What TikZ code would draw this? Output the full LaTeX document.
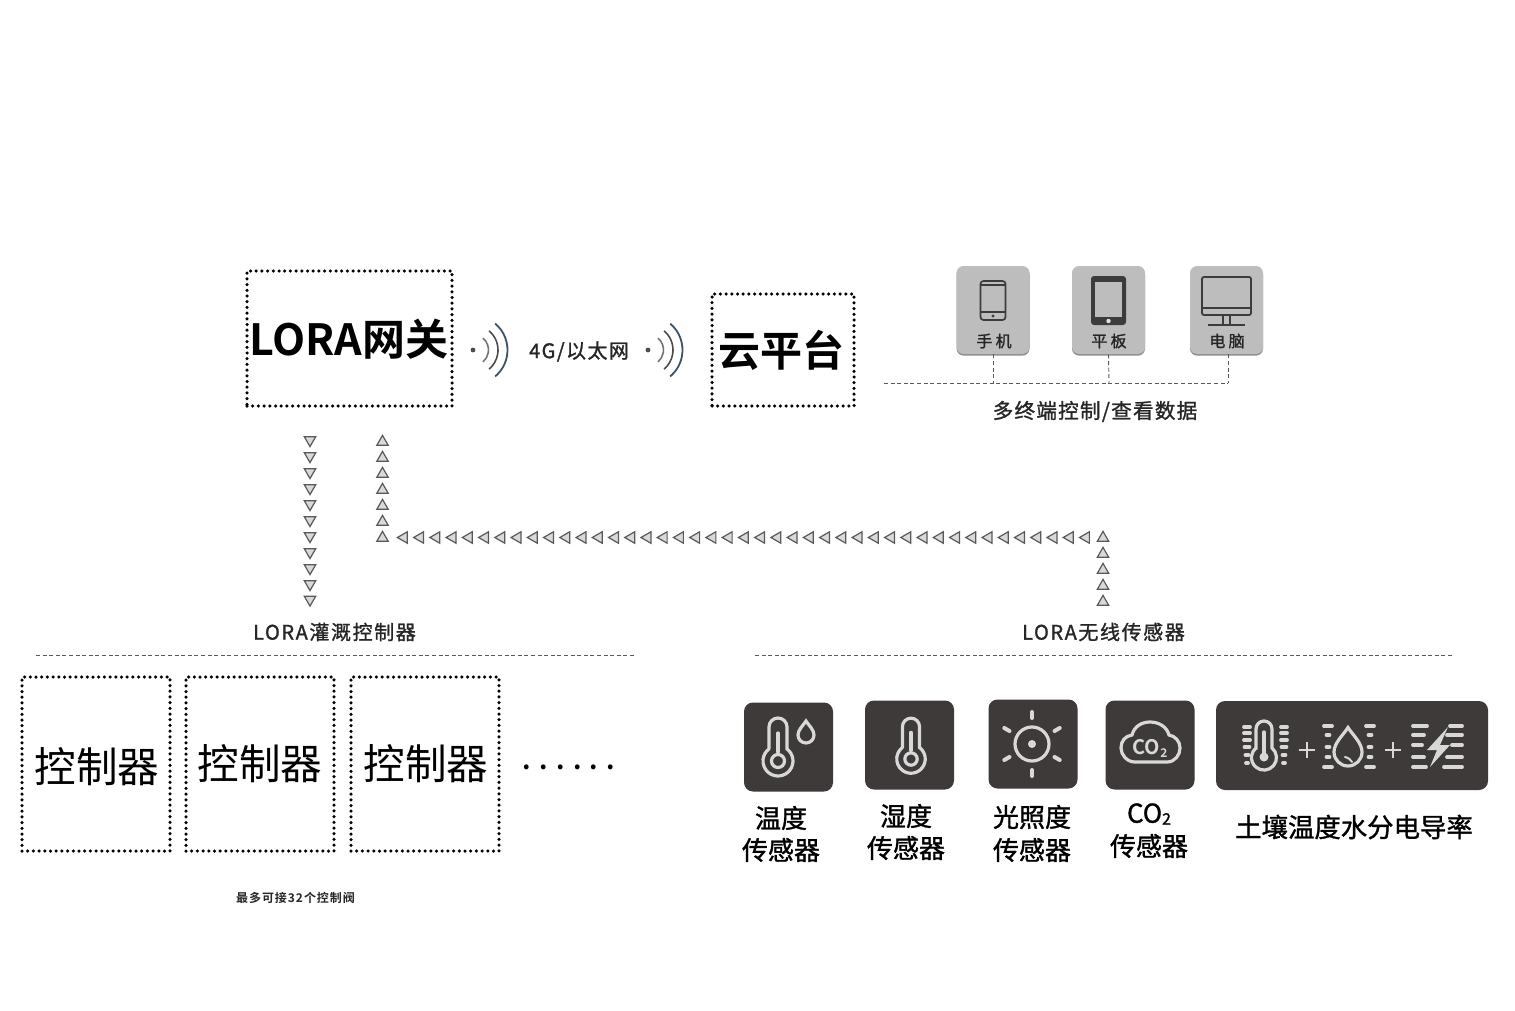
\documentclass[tikz,border=0pt]{standalone}
\usepackage{fontspec}
\setmainfont[BoldFont={Noto Sans CJK SC Bold}]{Noto Sans CJK SC}
\newfontfamily\medfont[FakeBold=1.3]{Noto Sans CJK SC}
\usetikzlibrary{%
  shapes.geometric,% triangles
  shadows,%
  positioning%
}
\definecolor{termgray}{HTML}{BDBDBD}
\definecolor{termline}{HTML}{3C3C3C}
\definecolor{icondark}{HTML}{3E3A39}
\definecolor{iconline}{HTML}{D8D8D8}
\definecolor{wavedark}{HTML}{3D5265}
\tikzset{
  dotbox/.style={draw=black,line width=1.75pt,line cap=round,dash pattern=on 0pt off 2.85pt,inner sep=0pt},
  termbox/.style={fill=termgray,rounded corners=3.5pt,minimum width=36.5pt,minimum height=44pt,inner sep=0pt,
    drop shadow={shadow xshift=0pt,shadow yshift=-0.8pt,fill=black!45,opacity=1}},
  sensorbox/.style={fill=icondark,rounded corners=4.5pt,minimum height=44.5pt,inner sep=0pt},
  bustext/.style={font=\medfont\fontsize{10}{12}\selectfont\addfontfeature{LetterSpace=8},text=black!85},
  senstext/.style={font=\medfont\fontsize{13}{15}\selectfont,text=black},
  termtext/.style={font=\medfont\fontsize{8}{9}\selectfont\addfontfeature{LetterSpace=20},text=black!85},
  tribase/.style={regular polygon,regular polygon sides=3,draw=black!65,fill=black!15,line width=0.6pt,minimum size=6.6pt,inner sep=0pt},
  tridown/.style={tribase,shape border rotate=180},
  triup/.style={tribase},
  trileft/.style={tribase,shape border rotate=90},
  dashline/.style={dashed,dash pattern=on 2pt off 1.3pt,draw=black!65,line width=0.45pt},
  iconstroke/.style={draw=iconline,line width=1.6pt,line cap=round},
  wavedot/.style={circle,fill=black!70,minimum size=2.4pt,inner sep=0pt},
  thermo/.pic={
    \draw[iconstroke] (-9,12) -- (-9,34) arc (180:0:9) -- (9,12) arc (53:-233:15);
    \draw[iconstroke] (0,0) circle (6.5);
    \draw[iconstroke] (0,9) -- (0,28);
  },
  droplet/.pic={
    \draw[iconstroke] (0,1.75) .. controls (0.35,1.2) and (1,0.65) .. (1,0) arc (0:-180:1) .. controls (-1,0.65) and (-0.35,1.2) .. (0,1.75) -- cycle;
  },
  waves/.pic={
    \draw[line width=0.8pt,draw=black!55] (50:15.5) arc (50:-50:15.5);
    \draw[line width=0.8pt,draw=black!70] (50:25) arc (50:-50:25);
    \draw[line width=0.9pt,draw=wavedark] (50:34.5) arc (50:-50:34.5);
  },
  plussign/.pic={
    \draw[draw=iconline,line width=0.9pt] (-8,0) -- (8,0) (0,-8) -- (0,8);
  },
}
\begin{document}
\begin{tikzpicture}[x=0.5pt,y=0.5pt]
\useasboundingbox (0,0) rectangle (1515,-1011);

% gateway and cloud
\node (gwbox) [dotbox,minimum width=102.5pt,minimum height=67.5pt] at (349.5,-338.5) {};
\node (gwtext) at (349,-339) {\bfseries\fontsize{21.5}{24}\selectfont LORA网关};
\node (cloudbox) [dotbox,minimum width=71pt,minimum height=56pt] at (783,-350) {};
\node (cloudtext) at (781,-350) {\bfseries\fontsize{21}{24}\selectfont 云平台};

% 4G link
\node (dotl) [wavedot] at (473,-350) {};
\pic at (473,-350) {waves};
\node (linktext) [font=\medfont\fontsize{10}{12}\selectfont\addfontfeature{LetterSpace=7},text=black!85] at (579,-351.5) {4G/以太网};
\node (dotr) [wavedot] at (648,-350) {};
\pic at (648,-350) {waves};

% terminals
\node (phone) [termbox] at (993,-310) {};
\node (tablet) [termbox] at (1108.5,-310) {};
\node (pc) [termbox] at (1226.5,-310) {};
\node (tphone) [termtext] at (994,-341) {手机};
\node (ttablet) [termtext] at (1109,-341) {平板};
\node (tpc) [termtext] at (1227,-341) {电脑};

\draw[termline,line width=0.85pt,rounded corners=1.5pt] (980.5,-281) rectangle (1005.5,-320);
\draw[termline,line width=0.6pt] (980.5,-285) -- (1005.5,-285) (980.5,-312) -- (1005.5,-312);
\fill[termline] (993,-316) circle (1.6);
\fill[termline,rounded corners=1.5pt] (1091,-276) rectangle (1126,-325);
\fill[termgray] (1095,-282) rectangle (1122,-317);
\fill[termgray!40] (1108.5,-321) circle (2.2);
\draw[termline,line width=0.9pt,rounded corners=1pt] (1202,-277) rectangle (1251,-315);
\draw[termline,line width=0.8pt] (1202,-308) -- (1251,-308);
\draw[termline,line width=0.7pt] (1223,-315) -- (1223,-325) (1230,-315) -- (1230,-325);
\draw[termline,line width=0.9pt] (1208,-325) -- (1245,-325);

% dashed bus under the terminals
\coordinate (busl) at (884,-383);
\coordinate (bus1) at (993,-383);
\coordinate (bus2) at (1109,-383);
\coordinate (bus3) at (1228,-383);
\draw[dashline] (busl) -- (bus3);
\draw[dashline] (phone.south) -- (bus1);
\draw[dashline] (tablet.south) -- (bus2);
\draw[dashline] (bus3 |- pc.south) -- (bus3);
\node (tbus) [font=\medfont\fontsize{10.3}{12}\selectfont\addfontfeature{LetterSpace=6},text=black!85] at (1095,-411.5) {多终端控制/查看数据};

% triangles
\foreach \i in {0,...,9} {
  \node (dn\i) [tridown] at (310,-440-16*\i) {};
}
\node (dn10) [tridown] at (310,-599.5) {};
\foreach \i in {0,...,6} {
  \node (up\i) [triup] at (382.5,-442-16*\i) {};
}
\foreach \i in {0,...,42} {
  \node (lf\i) [trileft] at (404+16.24*\i,-537.5) {};
}
\foreach \i in {0,...,4} {
  \node (rt\i) [triup] at (1103,-538-16*\i) {};
}

% bus labels and lines
\node (tctrl) [bustext] at (334.5,-632) {LORA灌溉控制器};
\node (tsens) [bustext] at (1103.5,-632) {LORA无线传感器};
\coordinate (ctrll) at (36,-655.5);
\coordinate (ctrlr) at (634,-655.5);
\coordinate (sensl) at (755,-655.5);
\coordinate (sensr) at (1453,-655.5);
\draw[dashline] (ctrll) -- (ctrlr);
\draw[dashline] (sensl) -- (sensr);

% controllers
\foreach \n/\x/\tx/\ty in {1/96/97/767,2/260/260/764,3/425/426/764} {
  \node (cbox\n) [dotbox,minimum width=74pt,minimum height=87pt] at (\x,-764) {};
  \node (ctext\n) at (\tx,-\ty) {\fontsize{20.8}{24}\selectfont 控制器};
}
\node (cmore) [font=\bfseries\fontsize{13}{15}\selectfont\addfontfeature{LetterSpace=32}] at (569,-767) {......};
\node (cnote) [font=\bfseries\fontsize{6}{7}\selectfont\addfontfeature{LetterSpace=8},text=black!85] at (295.5,-898) {最多可接32个控制阀};

% sensors
\node (s1) [sensorbox,minimum width=44.5pt] at (788.5,-747) {};
\node (s2) [sensorbox,minimum width=44.5pt] at (909.5,-745) {};
\node (s3) [sensorbox,minimum width=44.5pt] at (1033,-744) {};
\node (s4) [sensorbox,minimum width=44.5pt] at (1150,-745) {};
\node (s5) [sensorbox,minimum width=136pt] at (1352,-745.5) {};

\pic at (778,-761) {thermo};
\pic[scale=8] at (806,-735) {droplet};
\pic[scale=0.95] at (911,-759) {thermo};

\draw[iconstroke] (1032,-744) circle (17);
\fill[iconline] (1032,-744) circle (4);
\foreach \a in {30,90,...,330} {
  \draw[iconstroke,line width=2pt] (1032,-744) ++(\a:26) -- ++(\a:6);
}

\draw[iconstroke] (1135,-762) -- (1167,-762) .. controls (1175,-762) and (1180,-755) .. (1180,-748) .. controls (1180,-741) and (1175,-736) .. (1169,-735) .. controls (1167,-727) and (1159,-722) .. (1150,-722) .. controls (1141,-722) and (1134,-727) .. (1132,-735) .. controls (1125,-736) and (1121,-741) .. (1121,-748) .. controls (1121,-755) and (1127,-762) .. (1135,-762) -- cycle;
\node (tco) [text=iconline,font=\bfseries\fontsize{10}{12}\selectfont] at (1150,-748) {CO\raisebox{-1.5pt}{\fontsize{6}{7}\selectfont 2}};

% soil icon
\draw[iconstroke] (1256,-748) -- (1256,-729) arc (180:0:8) -- (1272,-748) arc (50:-230:12.5) -- cycle;
\fill[iconline] (1264,-757) circle (4.5);
\draw[iconstroke] (1264,-755) -- (1264,-732);
\foreach \y/\w in {-727/3,-733/3,-740/3,-747/2.5,-755/1.5,-763/1} {
  \draw[iconstroke,line width=1.9pt] (1247-\w,\y) -- (1247+\w,\y);
  \draw[iconstroke,line width=1.9pt] (1284-\w,\y) -- (1284+\w,\y);
}
\pic at (1307,-750) {plussign};
\pic[scale=14] at (1348,-752) {droplet};
\draw[iconstroke,line width=1pt] (1345,-757) .. controls (1349,-758) and (1351,-760) .. (1352,-762);
\foreach \y/\w in {-726/4,-735/1.5,-747/1.5,-757/1.5,-767/4} {
  \draw[iconstroke,line width=1.9pt] (1328-\w,\y) -- (1328+\w,\y);
  \draw[iconstroke,line width=1.9pt] (1370-\w,\y) -- (1370+\w,\y);
}
\pic at (1393,-750) {plussign};
\fill[iconline] (1448,-727) -- (1427,-750) -- (1437,-750) -- (1430,-767) -- (1450,-745) -- (1440,-745) -- cycle;
\foreach \y/\a/\b in {-726/1413/1427,-735/1413/1424,-745/1413/1422,-757/1413/1424,-767/1413/1426} {
  \draw[iconstroke,line width=1.9pt] (\a,\y) -- (\b,\y);
}
\foreach \y/\a/\b in {-726/1450/1462,-735/1447/1462,-745/1452/1462,-757/1447/1462,-767/1444/1462} {
  \draw[iconstroke,line width=1.9pt] (\a,\y) -- (\b,\y);
}

% sensor labels
\node (l1a) [senstext] at (781,-818) {温度};
\node (l1b) [senstext] at (781,-850) {传感器};
\node (l2a) [senstext] at (906,-816) {湿度};
\node (l2b) [senstext] at (906,-848) {传感器};
\node (l3a) [senstext] at (1032,-817) {光照度};
\node (l3b) [senstext] at (1032,-850) {传感器};
\node (l4a) [senstext] at (1149,-814) {CO\raisebox{-1pt}{\fontsize{8}{9}\selectfont 2}};
\node (l4b) [senstext] at (1149,-846) {传感器};
\node (l5) [senstext,font=\medfont\fontsize{13.2}{15}\selectfont] at (1354,-827) {土壤温度水分电导率};

\end{tikzpicture}
\end{document}
